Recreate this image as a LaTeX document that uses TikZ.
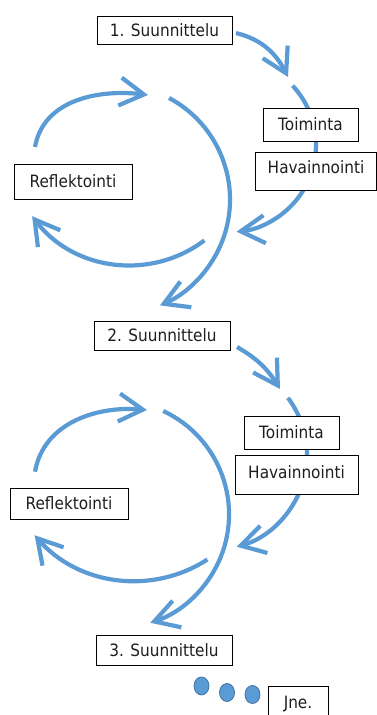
\documentclass[tikz,border=0pt]{standalone}
\usepackage{fontspec}
\setmainfont{DejaVu Sans}[FakeStretch=0.9]
\usetikzlibrary{arrows.meta,shapes.geometric}
\definecolor{cyc}{HTML}{5B9BD5}
\definecolor{cycdark}{HTML}{41719C}
\definecolor{txt}{HTML}{1E1E1E}
\begin{document}
\begin{tikzpicture}[x=1pt,y=1pt,
  arr/.style={draw=cyc, line width=4.2pt, -{Straight Barb[length=24pt,width=28pt]}},
  box/.style={draw=black, line width=0.8pt, fill=white, rectangle, inner sep=0pt,
    text=txt, font=\fontsize{17pt}{20pt}\selectfont, text height=12.4pt, text depth=0pt},
  dot/.style={ellipse, fill=cyc, draw=cycdark, line width=0.8pt, inner sep=0pt,
    minimum width=15pt, minimum height=18pt}]
\path[use as bounding box, clip] (0,0) rectangle (377,715);

% ---------- cycle 1 ----------
\coordinate (a1s) at (236,682);
\coordinate (a1e) at (288,638);
\coordinate (a2s) at (292.6,629.3);
\coordinate (b1s) at (169,617);
\coordinate (u1s) at (35,568);
\coordinate (u1e) at (148,620);
\coordinate (l1s) at (204.4,474.6);
\draw[arr] (a1s) to[out=-14,in=117] (a1e);
\draw[arr] (a2s) arc[start angle=43, end angle=-85, radius=87];
\draw[arr] (b1s) arc[start angle=62, end angle=-67, radius=115];
\draw[arr] (u1s) to[out=80,in=173] (u1e);
\draw[arr] (l1s) arc[start angle=-53, end angle=-143, radius=123];

% ---------- cycle 2 ----------
\coordinate (a3s) at (237,368);
\coordinate (a3e) at (280,326);
\coordinate (a4s) at (287.9,317.2);
\coordinate (b2s) at (163.2,304);
\coordinate (u2s) at (35,243.3);
\coordinate (u2e) at (147,305);
\coordinate (l2s) at (207.4,155.5);
\draw[arr] (a3s) to[out=-30,in=122] (a3e);
\draw[arr] (a4s) arc[start angle=37, end angle=-75, radius=95];
\draw[arr] (b2s) arc[start angle=65, end angle=-72, radius=114];
\draw[arr] (u2s) to[out=80,in=175] (u2e);
\draw[arr] (l2s) arc[start angle=-57, end angle=-139, radius=133];

% ---------- boxes ----------
\node[box, minimum width=135pt, minimum height=28pt] (s1) at (164.5,685) {1. Suunnittelu};
\node[box, minimum width=95pt, minimum height=33pt] (t1) at (310.5,590.5) {Toiminta};
\node[box, minimum width=121pt, minimum height=38pt, text depth=7pt] (h1) at (316,544) {Havainnointi};
\node[box, minimum width=118pt, minimum height=35pt] (r1) at (73,533.5) {Reflektointi};

\node[box, minimum width=136pt, minimum height=29pt] (s2) at (162,379.5) {2. Suunnittelu};
\node[box, minimum width=95pt, minimum height=33pt] (t2) at (291.5,282.5) {Toiminta};
\node[box, minimum width=123pt, minimum height=39pt, text depth=5pt] (h2) at (296.5,240.5) {Havainnointi};
\node[box, minimum width=118pt, minimum height=31pt] (r2) at (69,211.5) {Reflektointi};

\node[box, minimum width=136pt, minimum height=30pt] (s3) at (164,65) {3. Suunnittelu};

\node[dot] (d1) at (201.5,29) {};
\node[dot] (d2) at (227,22.5) {};
\node[dot] (d3) at (252.5,20.5) {};
\node[box, minimum width=60pt, minimum height=32pt] (jne) at (298,13) {Jne.};
\end{tikzpicture}
\end{document}
